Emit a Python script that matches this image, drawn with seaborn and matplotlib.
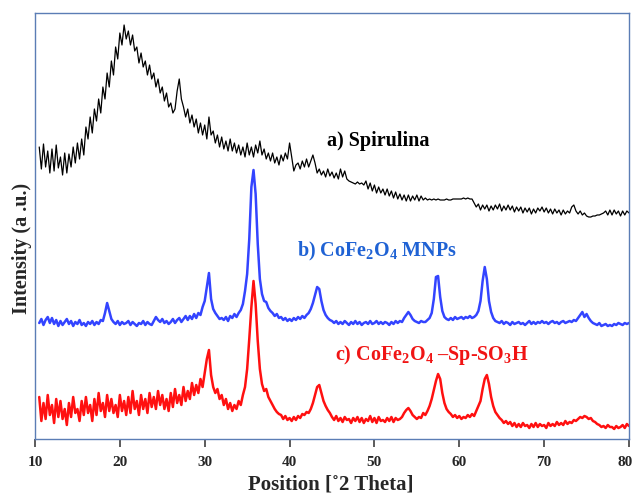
import numpy as np
import pandas as pd
import matplotlib
matplotlib.use("Agg")
import matplotlib.pyplot as plt
from matplotlib.transforms import ScaledTranslation
import seaborn as sns

# 2-theta sampling grid (degrees), 0.25 deg steps from 10.5 to 80
two_theta = np.arange(10.5, 80.001, 0.25)

# a) Spirulina
spirulina = [
    292, 270,
    295, 272, 288, 266,  # 11
    290, 268, 294, 271,  # 12
    282, 264, 286, 266,  # 13
    285, 272, 292, 276,  # 14
    296, 280, 300, 284,  # 15
    312, 300, 322, 306,  # 16
    330, 318, 340, 326,  # 17
    352, 340, 366, 352,  # 18
    378, 364, 392, 380,  # 19
    406, 394, 414, 400,  # 20
    408, 394, 404, 388,  # 21
    392, 376, 386, 372,  # 22
    378, 364, 374, 360,  # 23
    366, 352, 360, 346,  # 24
    352, 338, 346, 332,  # 25
    336, 326, 330, 348,  # 26
    360, 340, 332, 322,  # 27
    330, 316, 324, 312,  # 28
    320, 306, 316, 304,  # 29
    314, 300, 322, 304,  # 30
    308, 296, 304, 292,  # 31
    302, 290, 298, 288,  # 32
    300, 288, 296, 286,  # 33
    294, 284, 292, 282,  # 34
    296, 284, 292, 282,  # 35
    294, 286, 298, 284,  # 36
    290, 280, 286, 278,  # 37
    286, 276, 282, 274,  # 38
    284, 278, 286, 280,  # 39
    296, 282, 268, 274,  # 40
    276, 270, 278, 272,  # 41
    280, 272, 278, 284,  # 42
    276, 266, 270, 264,  # 43
    268, 262, 270, 263,  # 44
    267, 261, 266, 260,  # 45
    270, 262, 268, 260,  # 46
    258, 257, 256, 255,  # 47
    257, 255, 256, 254,  # 48
    258, 250, 256, 248,  # 49
    254, 246, 252, 246,  # 50
    250, 244, 250, 243,  # 51
    248, 241, 247, 240,  # 52
    245, 239, 244, 238,  # 53
    244, 238, 243, 239,  # 54
    244, 238, 243, 239,  # 55
    241, 239, 240, 239,  # 56
    240, 239, 240, 239,  # 57
    239, 239, 240, 239,  # 58
    239, 240, 240, 240,  # 59
    240, 240, 241, 240,  # 60
    241, 240, 240, 236,  # 61
    232, 235, 229, 234,  # 62
    230, 234, 228, 233,  # 63
    229, 234, 230, 235,  # 64
    228, 233, 229, 234,  # 65
    229, 233, 227, 232,  # 66
    228, 232, 226, 231,  # 67
    227, 231, 225, 230,  # 68
    226, 231, 228, 232,  # 69
    227, 231, 226, 230,  # 70
    225, 230, 226, 229,  # 71
    224, 229, 225, 228,  # 72
    226, 232, 234, 228,  # 73
    225, 228, 224, 226,  # 74
    223, 222, 222, 223,  # 75
    223, 224, 224, 225,  # 76
    226, 228, 224, 229,  # 77
    224, 229, 225, 228,  # 78
    223, 228, 224, 228,  # 79
    226,
]

# b) CoFe2O4 MNPs
cofe2o4 = [
    116, 120,
    114, 119, 122, 116,  # 11
    121, 115, 119, 113,  # 12
    118, 114, 117, 120,  # 13
    115, 118, 113, 117,  # 14
    115, 119, 114, 116,  # 15
    113, 117, 115, 118,  # 16
    114, 117, 115, 119,  # 17
    118, 126, 136, 128,  # 18
    120, 117, 115, 118,  # 19
    114, 117, 115, 116,  # 20
    118, 114, 117, 115,  # 21
    113, 116, 115, 118,  # 22
    114, 117, 115, 114,  # 23
    118, 122, 119, 117,  # 24
    120, 116, 118, 115,  # 25
    117, 120, 116, 119,  # 26
    121, 117, 120, 123,  # 27
    119, 123, 120, 125,  # 28
    121, 126, 124, 132,  # 29
    138, 152, 166, 140,  # 30
    130, 126, 123, 120,  # 31
    121, 119, 122, 118,  # 32
    123, 121, 125, 122,  # 33
    126, 129, 135, 148,  # 34
    165, 200, 252, 269,  # 35
    245, 195, 160, 145,  # 36
    138, 137, 131, 128,  # 37
    126, 123, 125, 121,  # 38
    122, 119, 121, 118,  # 39
    120, 118, 121, 119,  # 40
    122, 120, 123, 121,  # 41
    124, 126, 130, 136,  # 42
    144, 152, 150, 138,  # 43
    129, 124, 121, 119,  # 44
    118, 116, 118, 115,  # 45
    117, 115, 118, 116,  # 46
    114, 117, 115, 118,  # 47
    115, 117, 114, 116,  # 48
    117, 115, 118, 115,  # 49
    116, 118, 115, 117,  # 50
    115, 117, 116, 114,  # 51
    117, 115, 118, 116,  # 52
    118, 117, 121, 124,  # 53
    127, 124, 120, 118,  # 54
    117, 116, 118, 117,  # 55
    117, 119, 121, 126,  # 56
    140, 162, 163, 142,  # 57
    128, 122, 120, 119,  # 58
    121, 119, 122, 120,  # 59
    121, 122, 120, 122,  # 60
    121, 123, 121, 122,  # 61
    124, 128, 138, 158,  # 62
    172, 160, 138, 127,  # 63
    121, 118, 117, 116,  # 64
    118, 115, 117, 116,  # 65
    114, 117, 115, 116,  # 66
    117, 115, 116, 114,  # 67
    116, 118, 115, 117,  # 68
    115, 117, 116, 118,  # 69
    116, 117, 115, 117,  # 70
    118, 116, 117, 115,  # 71
    117, 118, 116, 117,  # 72
    118, 117, 119, 118,  # 73
    121, 124, 127, 122,  # 74
    125, 121, 118, 116,  # 75
    115, 114, 116, 113,  # 76
    114, 115, 113, 114,  # 77
    113, 115, 114, 116,  # 78
    115, 114, 116, 115,  # 79
    116,
]

# c) CoFe2O4-Sp-SO3H
cofe2o4_sp_so3h = [
    42, 18,
    36, 20, 44, 24,  # 11
    34, 16, 40, 22,  # 12
    38, 20, 30, 14,  # 13
    36, 22, 42, 26,  # 14
    30, 18, 38, 24,  # 15
    42, 26, 34, 18,  # 16
    40, 24, 46, 28,  # 17
    36, 22, 44, 28,  # 18
    40, 26, 34, 22,  # 19
    44, 28, 38, 24,  # 20
    42, 26, 48, 30,  # 21
    38, 24, 44, 30,  # 22
    40, 26, 46, 32,  # 23
    42, 30, 48, 34,  # 24
    44, 30, 40, 28,  # 25
    46, 32, 50, 36,  # 26
    44, 34, 52, 38,  # 27
    48, 40, 56, 44,  # 28
    54, 46, 60, 52,  # 29
    66, 80, 89, 64,  # 30
    52, 46, 50, 40,  # 31
    44, 34, 40, 30,  # 32
    36, 28, 34, 30,  # 33
    38, 34, 44, 52,  # 34
    70, 100, 132, 158,  # 35
    135, 98, 70, 55,  # 36
    48, 50, 42, 38,  # 37
    34, 30, 27, 25,  # 38
    24, 20, 23, 19,  # 39
    21, 18, 22, 19,  # 40
    23, 21, 25, 24,  # 41
    27, 26, 30, 36,  # 42
    44, 52, 54, 46,  # 43
    38, 33, 29, 26,  # 44
    22, 19, 23, 18,  # 45
    21, 17, 22, 19,  # 46
    20, 16, 21, 18,  # 47
    22, 17, 21, 16,  # 48
    20, 18, 23, 17,  # 49
    21, 16, 22, 18,  # 50
    19, 17, 21, 18,  # 51
    22, 17, 21, 19,  # 52
    20, 22, 26, 29,  # 53
    31, 28, 24, 22,  # 54
    20, 22, 21, 26,  # 55
    24, 28, 33, 40,  # 56
    49, 58, 65, 60,  # 57
    46, 36, 30, 27,  # 58
    25, 22, 24, 21,  # 59
    23, 20, 22, 21,  # 60
    24, 22, 25, 23,  # 61
    28, 33, 38, 50,  # 62
    60, 64, 55, 42,  # 63
    33, 27, 24, 21,  # 64
    19, 16, 18, 15,  # 65
    17, 13, 16, 12,  # 66
    15, 12, 16, 13,  # 67
    14, 11, 15, 12,  # 68
    16, 12, 15, 13,  # 69
    14, 11, 16, 13,  # 70
    15, 13, 17, 14,  # 71
    16, 14, 18, 15,  # 72
    17, 16, 19, 18,  # 73
    20, 22, 21, 23,  # 74
    22, 20, 21, 18,  # 75
    17, 15, 14, 12,  # 76
    13, 11, 14, 12,  # 77
    12, 10, 13, 11,  # 78
    12, 14, 11, 15,  # 79
    13,
]

x_ticks = [10, 20, 30, 40, 50, 60, 70, 80]

series_labels = ["a) Spirulina",
                 r"b) CoFe$_2$O$_4$ MNPs",
                 r"c) CoFe$_2$O$_4$ –Sp-SO$_3$H"]

df = pd.DataFrame({
    "two_theta": two_theta,
    "spirulina": spirulina,
    "cofe2o4": cofe2o4,
    "cofe2o4_sp_so3h": cofe2o4_sp_so3h,
})

sns.set_style("white")
plt.rcParams["font.family"] = ["Liberation Serif", "DejaVu Serif"]
plt.rcParams["font.weight"] = "bold"
plt.rcParams["mathtext.fontset"] = "custom"
plt.rcParams["mathtext.rm"] = "Liberation Serif:bold"
plt.rcParams["mathtext.it"] = "Liberation Serif:bold:italic"
plt.rcParams["mathtext.bf"] = "Liberation Serif:bold"

fig = plt.figure(figsize=(6.32, 4.96), dpi=100)
ax = fig.add_axes([35 / 632, 57 / 496, 594 / 632, 426 / 496])

sns.lineplot(data=df, x="two_theta", y="spirulina", ax=ax, color="black",
             linewidth=0.9, estimator=None, sort=False)
sns.lineplot(data=df, x="two_theta", y="cofe2o4", ax=ax, color="#3344FF",
             linewidth=1.8, estimator=None, sort=False)
sns.lineplot(data=df, x="two_theta", y="cofe2o4_sp_so3h", ax=ax, color="#FF1010",
             linewidth=1.8, estimator=None, sort=False)

ax.set_xlim(10, 80)
ax.set_ylim(0, 426)
ax.set_xticks(x_ticks)
ax.set_xticklabels([str(t) for t in x_ticks])
ax.set_yticks([])
ax.tick_params(axis="x", direction="out", length=6, width=1.2, color="#404040",
               labelsize=11, pad=6, bottom=True)

# keep the last tick label inside the canvas
last = ax.get_xticklabels()[-1]
last.set_transform(last.get_transform() +
                   ScaledTranslation(-4 / 100, 0, fig.dpi_scale_trans))

for side in ["left", "right", "top", "bottom"]:
    ax.spines[side].set_visible(True)
    ax.spines[side].set_color("#5B7DB5")
    ax.spines[side].set_linewidth(1.0)

ax.set_xlabel("Position [˚2 Theta]", fontsize=15, fontweight="bold")
ax.xaxis.set_label_coords(0.498, -0.084)
ax.set_ylabel("Intensity (a .u.)", fontsize=14.5, fontweight="bold")
ax.yaxis.set_label_coords(-0.005, 0.448)

ax.text(44.4, 293, series_labels[0], color="black", fontsize=14.5,
        fontweight="bold", ha="left", va="baseline")
ax.text(40.85, 183, series_labels[1], color="#1F62D4", fontsize=14.5,
        fontweight="bold", ha="left", va="baseline")
ax.text(45.3, 79, series_labels[2], color="#F01414", fontsize=14.5,
        fontweight="bold", ha="left", va="baseline")

fig.savefig("out.png", dpi=100)
